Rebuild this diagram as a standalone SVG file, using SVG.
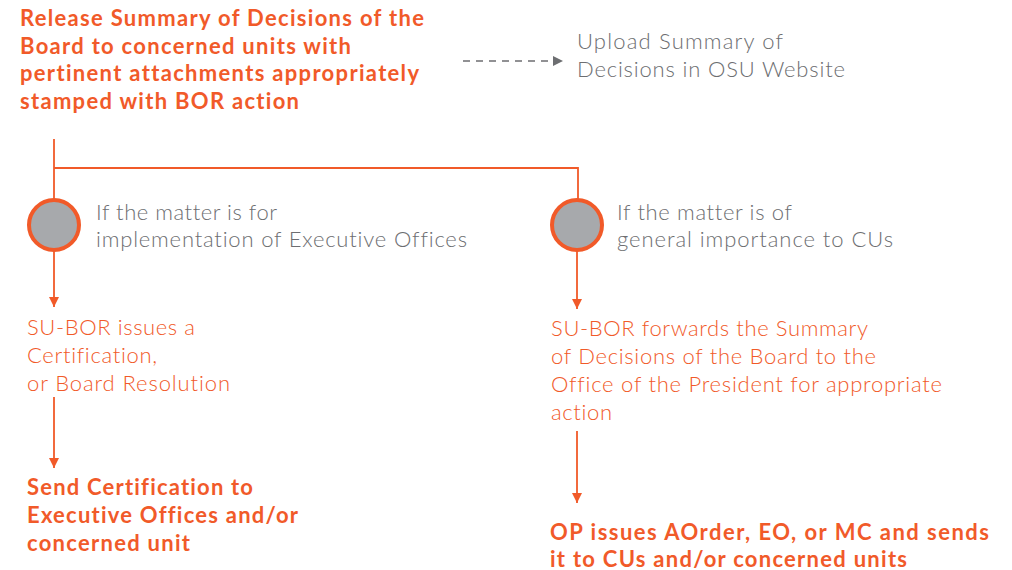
<svg xmlns="http://www.w3.org/2000/svg" width="1012" height="570" viewBox="0 0 1012 570">
<defs>
<style>
text{font-variant-ligatures:none;font-feature-settings:"liga" 0}
.b{font-family:Lato,"Noto Sans","DejaVu Sans",sans-serif;font-weight:700;font-size:22px;fill:#F15A29}
.l{font-family:Lato,"Noto Sans","DejaVu Sans",sans-serif;font-weight:300;font-size:22px}
.o{fill:#F15A29}
.g{fill:#6D6E71}
.ln{stroke:#F15A29;stroke-width:1.8;fill:none}
.dash{stroke:#6D6E71;stroke-width:1.5;fill:none;stroke-dasharray:7 6}
.c{fill:#A7A9AC;stroke:#F15A29;stroke-width:4}
</style>
<marker id="ao" viewBox="0 0 10 10" refX="10" refY="5" markerWidth="10" markerHeight="10" markerUnits="userSpaceOnUse" orient="auto"><path d="M0,0L10,5L0,10z" fill="#F15A29"/></marker>
<marker id="ag" viewBox="0 0 10 10" refX="10" refY="5" markerWidth="10" markerHeight="10" markerUnits="userSpaceOnUse" orient="auto"><path d="M0,0L10,5L0,10z" fill="#6D6E71"/></marker>
</defs>
<g id="connectors">
<path class="ln" d="M54,139V200"/>
<path class="ln" d="M54,168H578V200"/>
<path class="ln" d="M54,250V307" marker-end="url(#ao)"/>
<path class="ln" d="M577,250V309" marker-end="url(#ao)"/>
<path class="ln" d="M54,397V468" marker-end="url(#ao)"/>
<path class="ln" d="M577,431V503" marker-end="url(#ao)"/>
<path class="dash" d="M463,61H563" marker-end="url(#ag)"/>
</g>
<g id="release">
<text class="b" x="20" y="26" textLength="404">Release Summary of Decisions of the</text>
<text class="b" x="20" y="53.5" textLength="331">Board to concerned units with</text>
<text class="b" x="20" y="81" textLength="399">pertinent attachments appropriately</text>
<text class="b" x="20" y="108.5" textLength="279">stamped with BOR action</text>
</g>
<g id="upload">
<text class="l g" x="577" y="49" textLength="206">Upload Summary of</text>
<text class="l g" x="577" y="77" textLength="268">Decisions in OSU Website</text>
</g>
<g id="decision-left">
<circle class="c" cx="54" cy="225" r="25"/>
<text class="l g" x="96" y="220" textLength="181">If the matter is for</text>
<text class="l g" x="96" y="247" textLength="371">implementation of Executive Offices</text>
</g>
<g id="decision-right">
<circle class="c" cx="577" cy="225" r="25"/>
<text class="l g" x="617" y="220" textLength="175">If the matter is of</text>
<text class="l g" x="617" y="247" textLength="276">general importance to CUs</text>
</g>
<g id="certification">
<text class="l o" x="27" y="335" textLength="168">SU-BOR issues a</text>
<text class="l o" x="27" y="363" textLength="130">Certification,</text>
<text class="l o" x="27" y="391" textLength="203">or Board Resolution</text>
</g>
<g id="forward">
<text class="l o" x="551" y="336" textLength="317">SU-BOR forwards the Summary</text>
<text class="l o" x="551" y="364" textLength="325">of Decisions of the Board to the</text>
<text class="l o" x="551" y="392" textLength="391">Office of the President for appropriate</text>
<text class="l o" x="551" y="419.5" textLength="61">action</text>
</g>
<g id="send">
<text class="b" x="27" y="495" textLength="226">Send Certification to</text>
<text class="b" x="27" y="523" textLength="271">Executive Offices and/or</text>
<text class="b" x="27" y="550.5" textLength="163">concerned unit</text>
</g>
<g id="op">
<text class="b" x="550" y="540" textLength="439">OP issues AOrder, EO, or MC and sends</text>
<text class="b" x="550" y="567" textLength="357">it to CUs and/or concerned units</text>
</g>
</svg>
